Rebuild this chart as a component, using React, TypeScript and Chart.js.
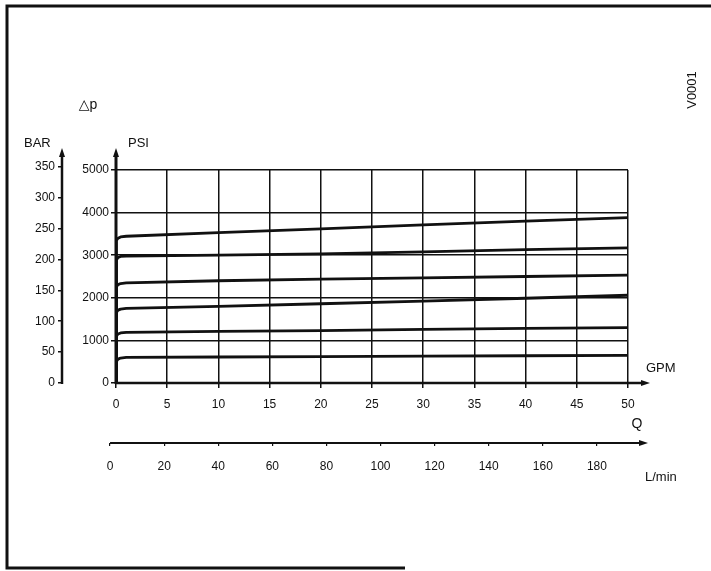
import React, { useEffect, useRef } from "react";
import { Chart, registerables } from "chart.js";

Chart.register(...registerables);

// ---- axis ticks ----
const GPM_TICKS = [0, 5, 10, 15, 20, 25, 30, 35, 40, 45, 50];
const LMIN_TICKS = [0, 20, 40, 60, 80, 100, 120, 140, 160, 180];
const PSI_TICKS = [0, 1000, 2000, 3000, 4000, 5000];
const BAR_TICKS = [0, 50, 100, 150, 200, 250, 300, 350];

const GPM_MIN = 0;
const GPM_MAX = 50;
const PSI_MIN = 0;
const PSI_MAX = 5000;
const PSI_PER_BAR = 14.5038;
const LMIN_MIN = 2.2;
const LMIN_MAX = 191.5;

// ---- curves: flow (GPM) and pressure (PSI) ----
const FLOW_GPM = [0, 0, 0.08, 0.2, 0.45, 1, 10, 20, 30, 40, 50];
const CURVE_1 = [0, 3230, 3350, 3400, 3430, 3445, 3530, 3620, 3710, 3800, 3880];
const CURVE_2 = [0, 2770, 2890, 2945, 2970, 2980, 3000, 3030, 3080, 3130, 3170];
const CURVE_3 = [0, 2140, 2260, 2310, 2335, 2350, 2400, 2440, 2470, 2500, 2530];
const CURVE_4 = [0, 1540, 1660, 1710, 1735, 1750, 1800, 1860, 1920, 1990, 2060];
const CURVE_5 = [0, 980, 1100, 1150, 1175, 1190, 1210, 1230, 1260, 1280, 1300];
const CURVE_6 = [0, 390, 510, 560, 585, 600, 610, 620, 630, 640, 650];
const CURVES = [CURVE_1, CURVE_2, CURVE_3, CURVE_4, CURVE_5, CURVE_6];

const FONT = "'Liberation Sans', Arial, Helvetica, sans-serif";
const INK = "#111111";

const plain = (v: any) => String(v);

function arrow(ctx: CanvasRenderingContext2D, x: number, y: number, dir: "up" | "right") {
  ctx.beginPath();
  if (dir === "up") {
    ctx.moveTo(x, y);
    ctx.lineTo(x - 3, y + 9);
    ctx.lineTo(x + 3, y + 9);
  } else {
    ctx.moveTo(x, y);
    ctx.lineTo(x - 9, y - 3);
    ctx.lineTo(x - 9, y + 3);
  }
  ctx.closePath();
  ctx.fill();
}

const decorations = {
  id: "decorations",
  afterDraw(chart: any) {
    const ctx: CanvasRenderingContext2D = chart.ctx;
    const { left, right, top, bottom } = chart.chartArea;
    const yBar = chart.scales.yBar;
    const xL = chart.scales.xL;
    const W = chart.width;
    const H = chart.height;
    ctx.save();
    ctx.strokeStyle = INK;
    ctx.fillStyle = INK;
    ctx.lineCap = "butt";

    // frame
    ctx.lineWidth = 3;
    ctx.beginPath();
    ctx.moveTo(W, 6);
    ctx.lineTo(7, 6);
    ctx.lineTo(7, H - 3);
    ctx.lineTo(405, H - 3);
    ctx.stroke();

    // PSI axis
    ctx.lineWidth = 3;
    ctx.beginPath();
    ctx.moveTo(left, bottom + 1);
    ctx.lineTo(left, top - 16);
    ctx.stroke();
    arrow(ctx, left, top - 22, "up");

    // BAR axis
    const bx = yBar.right;
    ctx.lineWidth = 2.5;
    ctx.beginPath();
    ctx.moveTo(bx, bottom + 1);
    ctx.lineTo(bx, top - 16);
    ctx.stroke();
    arrow(ctx, bx, top - 22, "up");

    // GPM axis
    ctx.lineWidth = 2.5;
    ctx.beginPath();
    ctx.moveTo(left, bottom);
    ctx.lineTo(right + 15, bottom);
    ctx.stroke();
    arrow(ctx, right + 22, bottom, "right");

    // L/min axis
    const ly = xL.top;
    ctx.lineWidth = 2;
    ctx.beginPath();
    ctx.moveTo(xL.getPixelForValue(0), ly);
    ctx.lineTo(right + 13, ly);
    ctx.stroke();
    arrow(ctx, right + 20, ly, "right");

    // texts
    ctx.textBaseline = "middle";
    ctx.textAlign = "left";
    ctx.font = `13px ${FONT}`;
    ctx.fillText("BAR", bx - 38, top - 27);
    ctx.fillText("PSI", left + 12, top - 27);
    ctx.fillText("GPM", right + 18, bottom - 15);
    ctx.fillText("L/min", right + 17, ly + 34);
    ctx.textAlign = "center";
    ctx.font = `14px ${FONT}`;
    ctx.fillText("Q", right + 9, bottom + 41);
    ctx.font = `14px ${FONT}, 'DejaVu Sans'`;
    ctx.fillText("\u25B3p", left - 28, top - 65);

    ctx.save();
    ctx.translate(W - 19, 90);
    ctx.rotate(-Math.PI / 2);
    ctx.font = `13px ${FONT}`;
    ctx.textAlign = "center";
    ctx.fillText("V0001", 0, 0);
    ctx.restore();

    ctx.restore();
  },
};

export default function App() {
  const ref = useRef<HTMLCanvasElement | null>(null);

  useEffect(() => {
    document.body.style.margin = "0";
    const canvas = ref.current;
    if (!canvas) return;

    const datasets = CURVES.map((c) => ({
      data: FLOW_GPM.map((x, i) => ({ x, y: c[i] })),
      borderColor: INK,
      borderWidth: 2.8,
      pointRadius: 0,
      tension: 0,
      fill: false,
      borderJoinStyle: "round" as const,
      borderCapStyle: "round" as const,
    }));

    const tickFont = { family: FONT, size: 12 };

    const chart = new Chart(canvas, {
      type: "line",
      data: { datasets },
      plugins: [decorations],
      options: {
        responsive: false,
        animation: false,
        devicePixelRatio: 1,
        layout: { padding: { left: 22, right: 83, top: 170, bottom: 88 } },
        plugins: { legend: { display: false }, tooltip: { enabled: false }, title: { display: false } },
        scales: {
          x: {
            type: "linear",
            position: "bottom",
            min: GPM_MIN,
            max: GPM_MAX,
            bounds: "data",
            afterBuildTicks: (s: any) => {
              s.ticks = GPM_TICKS.map((value) => ({ value }));
            },
            afterFit: (s: any) => {
              s.height = 60;
            },
            grid: { color: INK, lineWidth: 1.5, tickLength: 5, drawTicks: true },
            border: { display: false },
            ticks: { autoSkip: false, maxRotation: 0, padding: 9, color: INK, font: tickFont, callback: plain },
          },
          xL: {
            type: "linear",
            position: "bottom",
            min: LMIN_MIN,
            max: LMIN_MAX,
            bounds: "data",
            afterBuildTicks: (s: any) => {
              s.ticks = LMIN_TICKS.map((value) => ({ value }));
            },
            afterFit: (s: any) => {
              s.height = 40;
            },
            grid: { drawOnChartArea: false, color: INK, lineWidth: 1.2, tickLength: 3 },
            border: { display: false },
            ticks: { autoSkip: false, maxRotation: 0, padding: 13, color: INK, font: tickFont, callback: plain },
          },
          y: {
            type: "linear",
            position: "left",
            min: PSI_MIN,
            max: PSI_MAX,
            bounds: "data",
            afterBuildTicks: (s: any) => {
              s.ticks = PSI_TICKS.map((value) => ({ value }));
            },
            afterFit: (s: any) => {
              s.width = 54;
            },
            grid: { color: INK, lineWidth: 1.5, tickLength: 5 },
            border: { display: false },
            ticks: { autoSkip: false, padding: 2, color: INK, font: tickFont, callback: plain },
          },
          yBar: {
            type: "linear",
            position: "left",
            min: PSI_MIN / PSI_PER_BAR,
            max: PSI_MAX / PSI_PER_BAR,
            bounds: "data",
            afterBuildTicks: (s: any) => {
              s.ticks = BAR_TICKS.map((value) => ({ value }));
            },
            afterFit: (s: any) => {
              s.width = 40;
            },
            grid: { drawOnChartArea: false, color: INK, lineWidth: 1.5, tickLength: 4 },
            border: { display: false },
            ticks: { autoSkip: false, padding: 3, color: INK, font: tickFont, callback: plain },
          },
        },
      },
    });

    return () => chart.destroy();
  }, []);

  return (
    <div style={{ width: 711, height: 571 }}>
      <canvas ref={ref} width={711} height={571} style={{ display: "block" }} />
    </div>
  );
}
